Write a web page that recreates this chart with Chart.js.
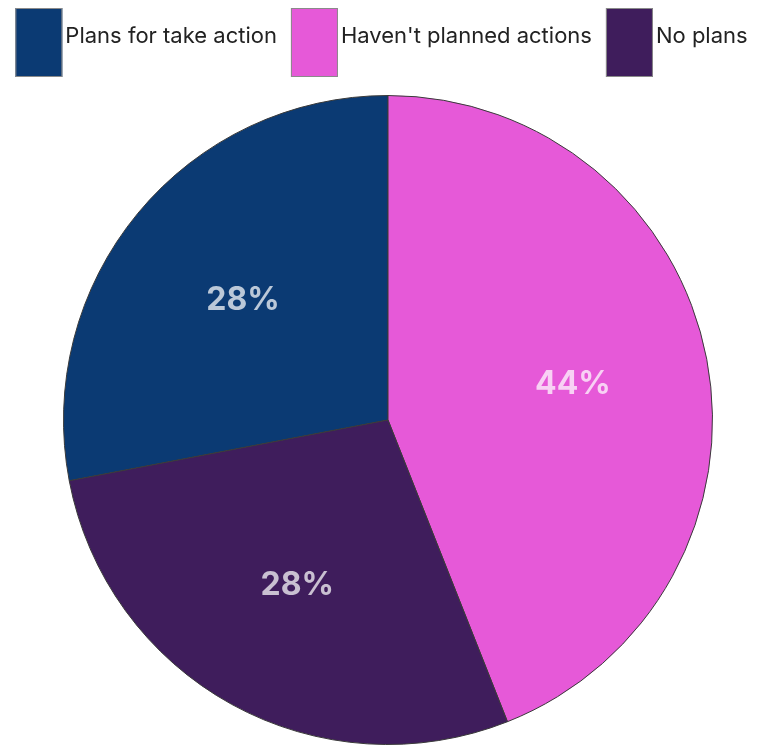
<!DOCTYPE html>
<html>
<head>
<meta charset="utf-8">
<script src="https://cdn.jsdelivr.net/npm/chart.js@4/dist/chart.umd.min.js"></script>
<style>
    html, body { margin: 0; padding: 0; background: #fff; }
    #wrap { width: 763px; height: 753px; }
</style>
</head>
<body>
<div id="wrap"><canvas id="pieCanvas"></canvas></div>
<script>
const CATEGORIES = ["Plans for take action", "Haven't planned actions", "No plans"];
const VALUES = [28, 44, 28];
const SLICE_COLORS = ["#0b3a73", "#e659d8", "#3f1d5c"];

const FONT_FAMILY = "Inter, 'Open Sans', sans-serif";

// legend with tall swatches and tight text spacing, drawn above the pie
const tallLegend = {
    id: 'tallLegend',
    afterDraw(chart) {
        const c = chart.ctx;
        const items = chart.options.plugins.legend.labels.generateLabels(chart);
        const boxW = 47, boxH = 69, top = 8, textGap = 3, itemGap = 14;
        c.save();
        c.font = "22px " + FONT_FAMILY;
        const widths = items.map(it => boxW + textGap + c.measureText(it.text).width);
        const total = widths.reduce((a, b) => a + b, 0) + itemGap * (items.length - 1);
        let x = (chart.width - total) / 2;
        items.forEach((it, i) => {
            c.fillStyle = it.fillStyle;
            c.fillRect(x, top, boxW, boxH);
            c.strokeStyle = "#8a8a8a";
            c.lineWidth = 1;
            c.strokeRect(x + 0.5, top + 0.5, boxW - 1, boxH - 1);
            c.fillStyle = "#222";
            c.textAlign = "left";
            c.textBaseline = "middle";
            c.fillText(it.text, x + boxW + textGap, top + boxH / 2 - 6);
            x += widths[i] + itemGap;
        });
        c.restore();
    }
};

// percentage text inside each slice
const sliceLabels = {
    id: 'sliceLabels',
    afterDatasetsDraw(chart) {
        const c = chart.ctx;
        const meta = chart.getDatasetMeta(0);
        c.save();
        c.font = "bold 32px " + FONT_FAMILY;
        c.fillStyle = "rgba(255, 255, 255, 0.72)";
        c.textAlign = "center";
        c.textBaseline = "middle";
        meta.data.forEach((arc, i) => {
            const mid = (arc.startAngle + arc.endAngle) / 2;
            const r = arc.outerRadius * 0.58;
            const x = arc.x + Math.cos(mid) * r;
            const y = arc.y + Math.sin(mid) * r;
            c.fillText(VALUES[i] + "%", x, y);
        });
        c.restore();
    }
};

const chart = new Chart(document.getElementById('pieCanvas'), {
    type: 'pie',
    data: {
        labels: CATEGORIES,
        datasets: [{
            data: VALUES,
            backgroundColor: SLICE_COLORS,
            borderColor: "#3a3a3a",
            borderWidth: 1
        }]
    },
    options: {
        responsive: true,
        maintainAspectRatio: false,
        animation: false,
        devicePixelRatio: 1,
        rotation: -VALUES[0] * 3.6,
        layout: {
            padding: { left: 13, right: 0, top: 95, bottom: 8 }
        },
        plugins: {
            tooltip: { enabled: false },
            legend: { display: false }
        }
    },
    plugins: [tallLegend, sliceLabels]
});
</script>
</body>
</html>
